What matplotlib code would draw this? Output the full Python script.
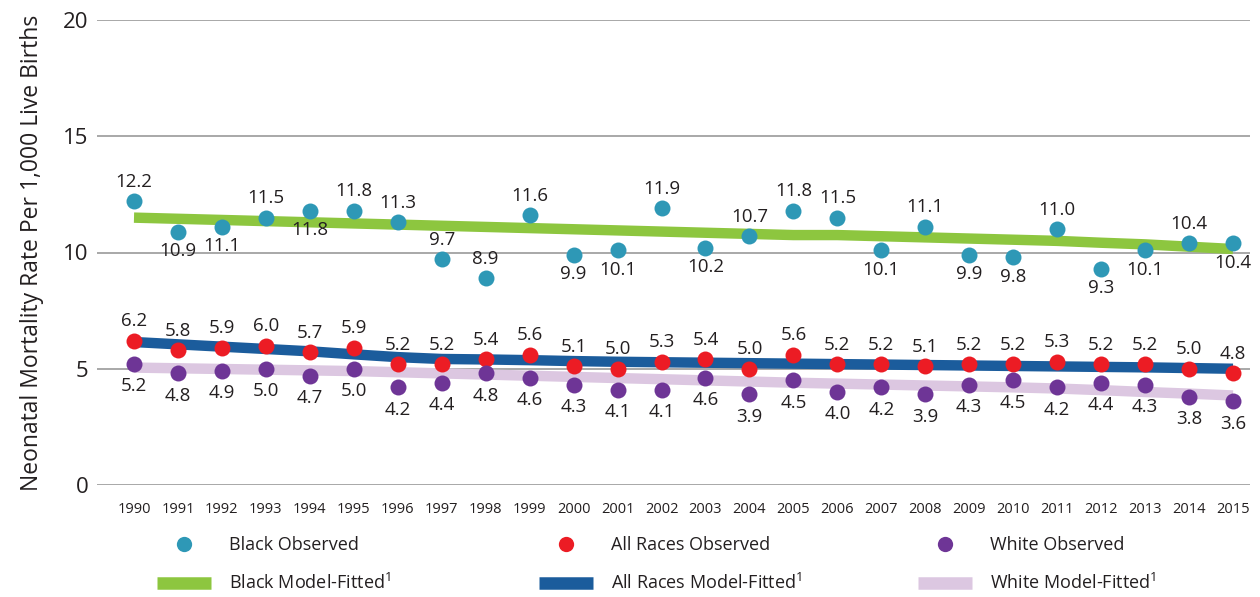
import matplotlib
matplotlib.use("Agg")
import matplotlib.pyplot as plt
from matplotlib.lines import Line2D

plt.rcParams['font.family'] = ['Open Sans', 'DejaVu Sans']

years = list(range(1990, 2016))

black_obs = [12.2, 10.9, 11.1, 11.5, 11.8, 11.8, 11.3, 9.7, 8.9, 11.6, 9.9, 10.1, 11.9,
             10.2, 10.7, 11.8, 11.5, 10.1, 11.1, 9.9, 9.8, 11.0, 9.3, 10.1, 10.4, 10.4]
all_obs = [6.2, 5.8, 5.9, 6.0, 5.7, 5.9, 5.2, 5.2, 5.4, 5.6, 5.1, 5.0, 5.3,
           5.4, 5.0, 5.6, 5.2, 5.2, 5.1, 5.2, 5.2, 5.3, 5.2, 5.2, 5.0, 4.8]
white_obs = [5.2, 4.8, 4.9, 5.0, 4.7, 5.0, 4.2, 4.4, 4.8, 4.6, 4.3, 4.1, 4.1,
             4.6, 3.9, 4.5, 4.0, 4.2, 3.9, 4.3, 4.5, 4.2, 4.4, 4.3, 3.8, 3.6]

black_fit = [11.5, 11.45, 11.4, 11.35, 11.3, 11.25, 11.2, 11.15, 11.1, 11.05, 11.0, 10.95, 10.9,
             10.85, 10.8, 10.75, 10.75, 10.7, 10.65, 10.6, 10.55, 10.5, 10.42, 10.35, 10.25, 10.15]
all_fit = [6.15, 6.05, 5.95, 5.85, 5.75, 5.62, 5.5, 5.42, 5.4, 5.37, 5.33, 5.3, 5.28,
           5.26, 5.24, 5.22, 5.2, 5.18, 5.16, 5.14, 5.12, 5.1, 5.08, 5.06, 5.03, 5.0]
white_fit = [5.05, 5.02, 4.99, 4.96, 4.93, 4.9, 4.85, 4.8, 4.75, 4.7, 4.65, 4.6, 4.55,
             4.5, 4.45, 4.4, 4.36, 4.32, 4.28, 4.24, 4.2, 4.15, 4.08, 4.0, 3.93, 3.85]

# label placement for black observed: 1 = above, -1 = below
black_pos = [1, -1, -1, 1, -1, 1, 1, 1, 1, 1, -1, -1, 1,
             -1, 1, 1, 1, -1, 1, -1, -1, 1, -1, -1, 1, -1]

labels = {
    'black_obs': 'Black Observed',
    'all_obs': 'All Races Observed',
    'white_obs': 'White Observed',
    'black_fit': 'Black Model-Fitted$^{\\mathregular{1}}$',
    'all_fit': 'All Races Model-Fitted$^{\\mathregular{1}}$',
    'white_fit': 'White Model-Fitted$^{\\mathregular{1}}$',
}

c_black = '#2E98B6'
c_all = '#EC1C24'
c_white = '#6E3596'
c_black_fit = '#8DC63F'
c_all_fit = '#1B5C9C'
c_white_fit = '#DCC7E1'
txt = '#231F20'

fig = plt.figure(figsize=(12.6, 5.97), dpi=100)
ax = fig.add_axes([97/1260, 1 - 485/597, (1250-97)/1260, (485-20)/597])

lw = 7.5
ms = 11.5
ax.plot(years, black_fit, color=c_black_fit, lw=lw, solid_capstyle='butt', zorder=2)
ax.plot(years, all_fit, color=c_all_fit, lw=lw, solid_capstyle='butt', zorder=2)
ax.plot(years, white_fit, color=c_white_fit, lw=lw, solid_capstyle='butt', zorder=2)

ax.plot(years, black_obs, 'o', color=c_black, ms=ms, mec='none', zorder=3)
ax.plot(years, all_obs, 'o', color=c_all, ms=ms, mec='none', zorder=3)
ax.plot(years, white_obs, 'o', color=c_white, ms=ms, mec='none', zorder=3)

fs = 13.5
for x, y, p in zip(years, black_obs, black_pos):
    ax.annotate(f'{y:.1f}', (x, y), xytext=(0, 14 * p), textcoords='offset points',
                ha='center', va='center', fontsize=fs, color=txt, zorder=4)
for x, y in zip(years, all_obs):
    ax.annotate(f'{y:.1f}', (x, y), xytext=(0, 14), textcoords='offset points',
                ha='center', va='center', fontsize=fs, color=txt, zorder=4)
for x, y in zip(years, white_obs):
    ax.annotate(f'{y:.1f}', (x, y), xytext=(0, -16), textcoords='offset points',
                ha='center', va='center', fontsize=fs, color=txt, zorder=4)

ax.set_xlim(1990 - 37/43.96, 2015 + 17/43.96)
ax.set_ylim(0, 20)
ax.set_yticks([0, 5, 10, 15, 20])
ax.set_xticks(years)
ax.set_xticklabels([str(y) for y in years], fontsize=10.5, color=txt)
ax.tick_params(axis='both', length=0)
ax.tick_params(axis='x', pad=12)
ax.tick_params(axis='y', labelsize=16, labelcolor=txt, pad=6)
ax.grid(axis='y', color='#9A9A9A', lw=1.2, zorder=0)
for s in ax.spines.values():
    s.set_visible(False)
ax.set_ylabel('Neonatal Mortality Rate Per 1,000 Live Births', fontsize=16.5, color=txt, labelpad=14)

# legends (three columns)
def mk(color):
    return Line2D([], [], ls='none', marker='o', color=color, ms=11, mec='none')
def ln(color):
    return Line2D([], [], color=color, lw=9, solid_capstyle='butt')

cols = [
    ([mk(c_black), ln(c_black_fit)], [labels['black_obs'], labels['black_fit']], 157),
    ([mk(c_all), ln(c_all_fit)], [labels['all_obs'], labels['all_fit']], 539),
    ([mk(c_white), ln(c_white_fit)], [labels['white_obs'], labels['white_fit']], 918),
]
for handles, labs, x0 in cols:
    leg = fig.legend(handles, labs, loc='upper left', bbox_to_anchor=(x0/1260, 1 - 536/597),
                     frameon=False, fontsize=13, handlelength=3.0, handletextpad=1.0,
                     labelspacing=1.05, borderpad=0, borderaxespad=0, labelcolor=txt)

fig.savefig('out.png', dpi=100)
